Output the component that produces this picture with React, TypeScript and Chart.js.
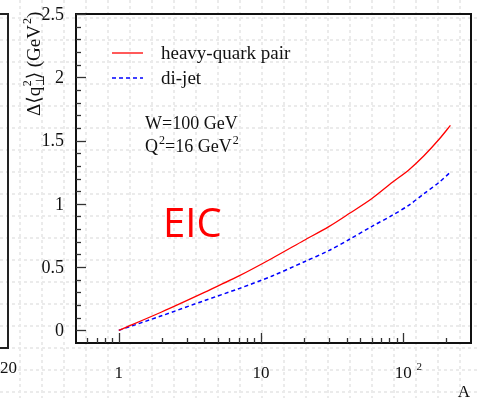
import React, { useEffect, useRef } from "react";
import { Chart, registerables } from "chart.js";

Chart.register(...registerables);

// Mass numbers of the nuclei and the computed broadening for each channel
const massNumbers = [1, 2, 4, 7, 12, 20, 30, 42, 60, 84, 110, 140, 179, 215];
const heavyQuarkPair = [0, 0.145, 0.3, 0.43, 0.57, 0.71, 0.82, 0.925, 1.04, 1.17, 1.27, 1.38, 1.51, 1.62];
const diJet = [0, 0.115, 0.235, 0.33, 0.43, 0.54, 0.63, 0.72, 0.82, 0.91, 0.99, 1.08, 1.17, 1.25];

const seriesNames = ["heavy-quark pair", "di-jet"];
const yTickValues = [0, 0.5, 1, 1.5, 2, 2.5];
const yTickLabels = ["0", "0.5", "1", "1.5", "2", "2.5"];
const xMajorTicks = [1, 10, 100];
const xMinorTicks = [0.6, 0.7, 0.8, 0.9, 2, 3, 4, 5, 6, 7, 8, 9, 20, 30, 40, 50, 60, 70, 80, 90, 200];

const SERIF = '"Liberation Serif", "DejaVu Serif", serif';

type Part = { t: string; sup?: boolean; sub?: boolean };

function drawRich(ctx: CanvasRenderingContext2D, x: number, y: number, parts: Part[], size: number) {
  let cx = x;
  for (const p of parts) {
    const small = p.sup || p.sub;
    ctx.font = `${small ? Math.round(size * 0.65) : size}px ${SERIF}`;
    const dy = p.sup ? -size * 0.45 : p.sub ? size * 0.2 : 0;
    ctx.fillText(p.t, cx + (p.sup ? 1 : 0), y + dy);
    cx += ctx.measureText(p.t).width + (p.sup ? 1 : 0);
  }
}

const decorations = {
  id: "decorations",
  beforeDraw(chart: any) {
    const ctx: CanvasRenderingContext2D = chart.ctx;
    const { width, height } = chart;
    ctx.save();
    ctx.fillStyle = "#ffffff";
    ctx.fillRect(0, 0, width, height);
    // faint dotted page pattern
    ctx.strokeStyle = "#ebebeb";
    ctx.lineWidth = 2;
    ctx.setLineDash([3, 3]);
    for (let x = 20; x < width; x += 22) {
      ctx.beginPath();
      ctx.moveTo(x, 0);
      ctx.lineTo(x, height);
      ctx.stroke();
    }
    for (let y = 18; y < height; y += 22) {
      ctx.beginPath();
      ctx.moveTo(0, y);
      ctx.lineTo(width, y);
      ctx.stroke();
    }
    ctx.restore();
  },
  afterDraw(chart: any) {
    const ctx: CanvasRenderingContext2D = chart.ctx;
    const area = chart.chartArea;
    const xs = chart.scales.x;
    const ys = chart.scales.y;
    ctx.save();

    // neighbouring panel edge
    ctx.strokeStyle = "#222";
    ctx.lineWidth = 2;
    ctx.beginPath();
    ctx.moveTo(0, 14);
    ctx.lineTo(8, 14);
    ctx.lineTo(8, 348);
    ctx.lineTo(0, 348);
    ctx.stroke();
    ctx.fillStyle = "#111";
    ctx.font = `17px ${SERIF}`;
    ctx.textAlign = "right";
    ctx.textBaseline = "alphabetic";
    ctx.fillText("20", 17, 373);

    // frame
    ctx.strokeStyle = "#111";
    ctx.lineWidth = 2;
    ctx.strokeRect(area.left, area.top, area.right - area.left, area.bottom - area.top);

    // y ticks
    ctx.strokeStyle = "#333";
    ctx.lineWidth = 1.3;
    for (let i = 0; i <= 25; i++) {
      const v = i / 10;
      const py = Math.round(ys.getPixelForValue(v)) + 0.5;
      const len = i % 5 === 0 ? 10 : 5;
      ctx.beginPath();
      ctx.moveTo(area.left, py);
      ctx.lineTo(area.left + len, py);
      ctx.stroke();
    }
    // x ticks
    for (const v of xMajorTicks) {
      const px = Math.round(xs.getPixelForValue(v)) + 0.5;
      ctx.beginPath();
      ctx.moveTo(px, area.bottom);
      ctx.lineTo(px, area.bottom - 10);
      ctx.stroke();
    }
    for (const v of xMinorTicks) {
      const px = Math.round(xs.getPixelForValue(v)) + 0.5;
      ctx.beginPath();
      ctx.moveTo(px, area.bottom);
      ctx.lineTo(px, area.bottom - 5);
      ctx.stroke();
    }

    // y tick labels
    ctx.fillStyle = "#111";
    ctx.font = `18px ${SERIF}`;
    ctx.textAlign = "right";
    ctx.textBaseline = "middle";
    yTickValues.forEach((v, i) => {
      ctx.fillText(yTickLabels[i], 64, ys.getPixelForValue(v) + 1);
    });

    // x tick labels
    ctx.textAlign = "left";
    ctx.textBaseline = "alphabetic";
    const xLabels: Part[][] = [[{ t: "1" }], [{ t: "10" }], [{ t: "10" }, { t: " ", sup: true }, { t: "2", sup: true }]];
    xMajorTicks.forEach((v, i) => {
      const px = xs.getPixelForValue(v);
      ctx.font = `17px ${SERIF}`;
      const base = ctx.measureText(xLabels[i][0].t).width;
      drawRich(ctx, px - base / 2, 378, xLabels[i], 17);
    });

    // axis titles
    ctx.font = `17px ${SERIF}`;
    ctx.textAlign = "right";
    ctx.fillText("A", 470, 397);

    ctx.save();
    ctx.translate(40, 116);
    ctx.rotate(-Math.PI / 2);
    ctx.textAlign = "left";
    const ySize = 19;
    let cx = 0;
    const seg = (t: string) => {
      ctx.font = `${ySize}px ${SERIF}`;
      ctx.fillText(t, cx, 0);
      cx += ctx.measureText(t).width;
    };
    seg("\u0394\u27E8q");
    ctx.font = `${Math.round(ySize * 0.65)}px ${SERIF}`;
    ctx.fillText("2", cx + 0.5, -ySize * 0.45);
    ctx.fillText("\u22A5", cx + 0.5, ySize * 0.22);
    cx += ctx.measureText("2").width + 1.5;
    seg("\u27E9 (GeV");
    ctx.font = `${Math.round(ySize * 0.65)}px ${SERIF}`;
    ctx.fillText("2", cx + 1, -ySize * 0.45);
    cx += ctx.measureText("2").width + 1;
    seg(")");
    ctx.restore();

    // legend
    ctx.lineWidth = 1.3;
    ctx.strokeStyle = "#ff0000";
    ctx.beginPath();
    ctx.moveTo(112, 53);
    ctx.lineTo(143, 53);
    ctx.stroke();
    ctx.strokeStyle = "#0000ff";
    ctx.lineWidth = 1.5;
    ctx.setLineDash([4, 3]);
    ctx.beginPath();
    ctx.moveTo(112, 78);
    ctx.lineTo(143, 78);
    ctx.stroke();
    ctx.setLineDash([]);
    ctx.fillStyle = "#111";
    ctx.textAlign = "left";
    ctx.textBaseline = "alphabetic";
    ctx.font = `19px ${SERIF}`;
    ctx.fillText(seriesNames[0], 161, 59);
    ctx.fillText(seriesNames[1], 161, 84);

    // kinematics
    drawRich(ctx, 145, 129, [{ t: "W=100 GeV" }], 18);
    drawRich(ctx, 145, 152, [{ t: "Q" }, { t: "2", sup: true }, { t: "=16 GeV" }, { t: "2", sup: true }], 18);

    // EIC tag
    ctx.fillStyle = "#ff0000";
    ctx.font = `40px "Open Sans", "Noto Sans", sans-serif`;
    ctx.fillText("EIC", 163, 237);

    ctx.restore();
  },
};

export default function App() {
  const canvasRef = useRef<HTMLCanvasElement | null>(null);

  useEffect(() => {
    if (!canvasRef.current) return;
    const chart = new Chart(canvasRef.current, {
      type: "line",
      data: {
        datasets: [
          {
            label: seriesNames[0],
            data: massNumbers.map((a, i) => ({ x: a, y: heavyQuarkPair[i] })),
            borderColor: "#ff0000",
            borderWidth: 1.3,
            pointRadius: 0,
            tension: 0.3,
            fill: false,
          },
          {
            label: seriesNames[1],
            data: massNumbers.map((a, i) => ({ x: a, y: diJet[i] })),
            borderColor: "#0000ff",
            borderWidth: 1.5,
            borderDash: [4, 3],
            pointRadius: 0,
            tension: 0.3,
            fill: false,
          },
        ],
      },
      options: {
        responsive: false,
        animation: false,
        devicePixelRatio: 1,
        layout: { padding: { left: 76, top: 14, right: 6, bottom: 55 } },
        scales: {
          x: { type: "logarithmic", min: 0.5, max: 300, display: false },
          y: { type: "linear", min: -0.1, max: 2.5, display: false },
        },
        plugins: {
          legend: { display: false },
          tooltip: { enabled: false },
        },
      },
      plugins: [decorations],
    });
    return () => chart.destroy();
  }, []);

  return (
    <div style={{ position: "fixed", left: 0, top: 0, width: 477, height: 398, background: "#fff" }}>
      <canvas ref={canvasRef} width={477} height={398} style={{ display: "block" }} />
    </div>
  );
}
